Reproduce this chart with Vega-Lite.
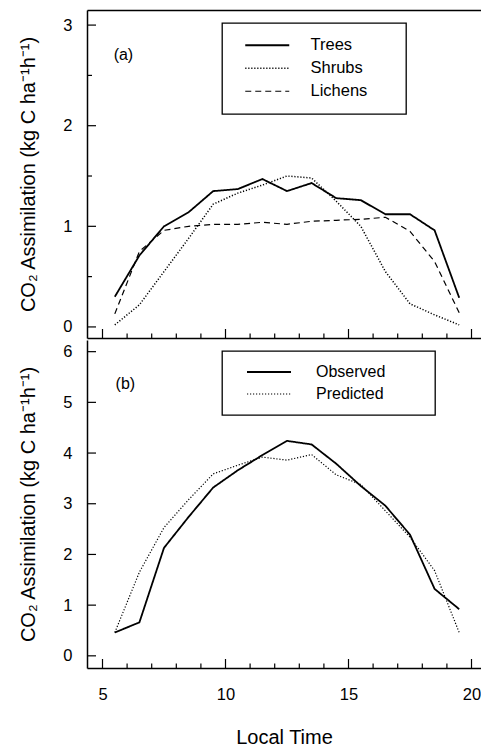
{
  "$schema": "https://vega.github.io/schema/vega-lite/v6.json",
  "background": "white",
  "padding": {"left": 18, "top": 10, "right": 0, "bottom": 0},
  "spacing": 1,
  "config": {
    "font": "Liberation Sans",
    "view": {"stroke": null},
    "axis": {
      "grid": false,
      "domainColor": "black",
      "domainWidth": 1.5,
      "labelFont": "Liberation Sans",
      "labelFontSize": 16.5,
      "labelColor": "black",
      "labelOverlap": false,
      "labelFlush": false,
      "titleFont": "Liberation Sans",
      "titleFontSize": 20,
      "titleFontWeight": "normal",
      "titleColor": "black"
    },
    "legend": {"strokeWidth": 1.3}
  },
  "datasets": {
    "top": [
      {"time": 5.5, "series": "Trees", "value": 0.30},
      {"time": 6.5, "series": "Trees", "value": 0.71},
      {"time": 7.5, "series": "Trees", "value": 1.00},
      {"time": 8.5, "series": "Trees", "value": 1.14},
      {"time": 9.5, "series": "Trees", "value": 1.35},
      {"time": 10.5, "series": "Trees", "value": 1.37},
      {"time": 11.5, "series": "Trees", "value": 1.47},
      {"time": 12.5, "series": "Trees", "value": 1.35},
      {"time": 13.5, "series": "Trees", "value": 1.43},
      {"time": 14.5, "series": "Trees", "value": 1.28},
      {"time": 15.5, "series": "Trees", "value": 1.26},
      {"time": 16.5, "series": "Trees", "value": 1.12},
      {"time": 17.5, "series": "Trees", "value": 1.12},
      {"time": 18.5, "series": "Trees", "value": 0.96},
      {"time": 19.5, "series": "Trees", "value": 0.29},
      {"time": 5.5, "series": "Shrubs", "value": 0.02},
      {"time": 6.5, "series": "Shrubs", "value": 0.22},
      {"time": 7.5, "series": "Shrubs", "value": 0.55},
      {"time": 8.5, "series": "Shrubs", "value": 0.88},
      {"time": 9.5, "series": "Shrubs", "value": 1.22},
      {"time": 10.5, "series": "Shrubs", "value": 1.33},
      {"time": 11.5, "series": "Shrubs", "value": 1.41},
      {"time": 12.5, "series": "Shrubs", "value": 1.50},
      {"time": 13.5, "series": "Shrubs", "value": 1.48},
      {"time": 14.5, "series": "Shrubs", "value": 1.25},
      {"time": 15.5, "series": "Shrubs", "value": 1.00},
      {"time": 16.5, "series": "Shrubs", "value": 0.55},
      {"time": 17.5, "series": "Shrubs", "value": 0.23},
      {"time": 18.5, "series": "Shrubs", "value": 0.12},
      {"time": 19.5, "series": "Shrubs", "value": 0.02},
      {"time": 5.5, "series": "Lichens", "value": 0.13},
      {"time": 6.5, "series": "Lichens", "value": 0.75},
      {"time": 7.5, "series": "Lichens", "value": 0.96},
      {"time": 8.5, "series": "Lichens", "value": 1.00},
      {"time": 9.5, "series": "Lichens", "value": 1.02},
      {"time": 10.5, "series": "Lichens", "value": 1.02},
      {"time": 11.5, "series": "Lichens", "value": 1.04},
      {"time": 12.5, "series": "Lichens", "value": 1.02},
      {"time": 13.5, "series": "Lichens", "value": 1.05},
      {"time": 14.5, "series": "Lichens", "value": 1.06},
      {"time": 15.5, "series": "Lichens", "value": 1.07},
      {"time": 16.5, "series": "Lichens", "value": 1.09},
      {"time": 17.5, "series": "Lichens", "value": 0.95},
      {"time": 18.5, "series": "Lichens", "value": 0.65},
      {"time": 19.5, "series": "Lichens", "value": 0.14}
    ],
    "bottom": [
      {"time": 5.5, "series": "Observed", "value": 0.46},
      {"time": 6.5, "series": "Observed", "value": 0.66},
      {"time": 7.5, "series": "Observed", "value": 2.13},
      {"time": 8.5, "series": "Observed", "value": 2.74},
      {"time": 9.5, "series": "Observed", "value": 3.32},
      {"time": 10.5, "series": "Observed", "value": 3.66},
      {"time": 11.5, "series": "Observed", "value": 3.96},
      {"time": 12.5, "series": "Observed", "value": 4.24},
      {"time": 13.5, "series": "Observed", "value": 4.17},
      {"time": 14.5, "series": "Observed", "value": 3.79},
      {"time": 15.5, "series": "Observed", "value": 3.35},
      {"time": 16.5, "series": "Observed", "value": 2.96},
      {"time": 17.5, "series": "Observed", "value": 2.39},
      {"time": 18.5, "series": "Observed", "value": 1.32},
      {"time": 19.5, "series": "Observed", "value": 0.92},
      {"time": 5.5, "series": "Predicted", "value": 0.46},
      {"time": 6.5, "series": "Predicted", "value": 1.65},
      {"time": 7.5, "series": "Predicted", "value": 2.53},
      {"time": 8.5, "series": "Predicted", "value": 3.08},
      {"time": 9.5, "series": "Predicted", "value": 3.59},
      {"time": 10.5, "series": "Predicted", "value": 3.76},
      {"time": 11.5, "series": "Predicted", "value": 3.92},
      {"time": 12.5, "series": "Predicted", "value": 3.86},
      {"time": 13.5, "series": "Predicted", "value": 3.97},
      {"time": 14.5, "series": "Predicted", "value": 3.57},
      {"time": 15.5, "series": "Predicted", "value": 3.38},
      {"time": 16.5, "series": "Predicted", "value": 2.86},
      {"time": 17.5, "series": "Predicted", "value": 2.34},
      {"time": 18.5, "series": "Predicted", "value": 1.68},
      {"time": 19.5, "series": "Predicted", "value": 0.46}
    ],
    "labels_a": [{"label": "(a)", "time": 5.85, "value": 2.70}],
    "labels_b": [{"label": "(b)", "time": 5.93, "value": 5.36}],
    "xt_major": [{"t": 5}, {"t": 10}, {"t": 15}, {"t": 20}],
    "xt_minor": [{"t": 6}, {"t": 7}, {"t": 8}, {"t": 9}, {"t": 11}, {"t": 12}, {"t": 13}, {"t": 14}, {"t": 16}, {"t": 17}, {"t": 18}, {"t": 19}],
    "yt_a_major": [{"v": 0}, {"v": 1}, {"v": 2}, {"v": 3}],
    "yt_a_minor": [{"v": 0.5}, {"v": 1.5}, {"v": 2.5}],
    "yt_b": [{"v": 0}, {"v": 1}, {"v": 2}, {"v": 3}, {"v": 4}, {"v": 5}, {"v": 6}]
  },
  "resolve": {"scale": {"strokeDash": "independent", "strokeWidth": "independent", "y": "independent"}},
  "vconcat": [
    {
      "width": 394,
      "height": 328,
      "resolve": {"axis": {"x": "independent", "y": "independent"}},
      "layer": [
        {
          "data": {"name": "top"},
          "mark": {"type": "line", "color": "black"},
          "encoding": {
            "x": {
              "field": "time", "type": "quantitative",
              "scale": {"domain": [4.37, 20.386], "nice": false, "zero": false},
              "axis": {"orient": "top", "title": null, "labels": false, "ticks": false, "domain": true}
            },
            "y": {
              "field": "value", "type": "quantitative",
              "scale": {"domain": [-0.11, 3.15], "nice": false, "zero": false},
              "axis": {
                "title": "CO₂ Assimilation (kg C ha⁻¹h⁻¹)",
                "titlePadding": 24,
                "labelPadding": 15,
                "ticks": false,
                "values": [0, 1, 2, 3],
                "format": "d"
              }
            },
            "strokeDash": {
              "field": "series", "type": "nominal",
              "scale": {"domain": ["Trees", "Shrubs", "Lichens"], "range": [[1, 0], [1.2, 1.8], [6, 4]]},
              "legend": {
                "title": null, "orient": "none", "legendX": 135, "legendY": 13,
                "strokeColor": "black", "padding": 14,
                "symbolType": "M-4,0L4,0", "symbolSize": 121, "symbolOffset": 23,
                "symbolStrokeColor": "black", "symbolFillColor": "transparent",
                "labelOffset": 35, "labelFontSize": 16.5, "labelColor": "black", "labelFont": "Liberation Sans",
                "rowPadding": 6,
                "labelExpr": "datum.label + '\u2800\u2800'"
              }
            },
            "strokeWidth": {
              "field": "series", "type": "nominal",
              "scale": {"domain": ["Trees", "Shrubs", "Lichens"], "range": [1.8, 1.2, 1.5]},
              "legend": {
                "title": null, "orient": "none", "legendX": 135, "legendY": 13,
                "strokeColor": "black", "padding": 14,
                "symbolType": "M-4,0L4,0", "symbolSize": 121, "symbolOffset": 23,
                "symbolStrokeColor": "black", "symbolFillColor": "transparent",
                "labelOffset": 35, "labelFontSize": 16.5, "labelColor": "black", "labelFont": "Liberation Sans",
                "rowPadding": 6,
                "labelExpr": "datum.label + '\u2800\u2800'"
              }
            }
          }
        },
        {
          "data": {"name": "labels_a"},
          "mark": {"type": "text", "fontSize": 16, "color": "black", "font": "Liberation Sans"},
          "encoding": {
            "x": {
              "field": "time", "type": "quantitative",
              "axis": {"orient": "bottom", "title": null, "labels": false, "ticks": false, "domain": true}
            },
            "y": {"field": "value", "type": "quantitative", "axis": null},
            "text": {"field": "label"}
          }
        },
        {
          "data": {"name": "xt_major"},
          "mark": {"type": "rule", "color": "black", "strokeWidth": 1.2},
          "encoding": {
            "x": {"field": "t", "type": "quantitative", "axis": null},
            "y": {"datum": -0.11, "type": "quantitative", "axis": null},
            "y2": {"datum": -0.0205}
          }
        },
        {
          "data": {"name": "xt_minor"},
          "mark": {"type": "rule", "color": "black", "strokeWidth": 1.2},
          "encoding": {
            "x": {"field": "t", "type": "quantitative", "axis": null},
            "y": {"datum": -0.11, "type": "quantitative", "axis": null},
            "y2": {"datum": -0.0653}
          }
        },
        {
          "data": {"name": "yt_a_major"},
          "mark": {"type": "rule", "color": "black", "strokeWidth": 1.2},
          "encoding": {
            "y": {"field": "v", "type": "quantitative", "axis": null},
            "x": {"datum": 4.37, "type": "quantitative", "axis": null},
            "x2": {"datum": 4.736}
          }
        },
        {
          "data": {"name": "yt_a_minor"},
          "mark": {"type": "rule", "color": "black", "strokeWidth": 1.2},
          "encoding": {
            "y": {"field": "v", "type": "quantitative", "axis": null},
            "x": {"datum": 4.37, "type": "quantitative", "axis": null},
            "x2": {"datum": 4.573}
          }
        }
      ]
    },
    {
      "width": 394,
      "height": 328,
      "resolve": {"axis": {"x": "independent", "y": "independent"}},
      "layer": [
        {
          "data": {"name": "bottom"},
          "mark": {"type": "line", "color": "black"},
          "encoding": {
            "x": {
              "field": "time", "type": "quantitative",
              "scale": {"domain": [4.37, 20.386], "nice": false, "zero": false},
              "axis": {
                "title": "Local Time",
                "titlePadding": 25,
                "labelPadding": 18,
                "ticks": false,
                "values": [5, 10, 15, 20]
              }
            },
            "y": {
              "field": "value", "type": "quantitative",
              "scale": {"domain": [-0.24, 6.23], "nice": false, "zero": false},
              "axis": {
                "title": "CO₂ Assimilation (kg C ha⁻¹h⁻¹)",
                "titlePadding": 24,
                "labelPadding": 15,
                "ticks": false,
                "values": [0, 1, 2, 3, 4, 5, 6]
              }
            },
            "strokeDash": {
              "field": "series", "type": "nominal",
              "scale": {"domain": ["Observed", "Predicted"], "range": [[1, 0], [1.2, 1.8]]},
              "legend": {
                "title": null, "orient": "none", "legendX": 135, "legendY": 11,
                "strokeColor": "black", "padding": 13,
                "symbolType": "M-4,0L4,0", "symbolSize": 121, "symbolOffset": 26,
                "symbolStrokeColor": "black", "symbolFillColor": "transparent",
                "labelOffset": 39, "labelFontSize": 16, "labelColor": "black", "labelFont": "Liberation Sans",
                "rowPadding": 6,
                "labelExpr": "datum.label + '\u2800\u2800\u2800'"
              }
            },
            "strokeWidth": {
              "field": "series", "type": "nominal",
              "scale": {"domain": ["Observed", "Predicted"], "range": [1.8, 1.2]},
              "legend": {
                "title": null, "orient": "none", "legendX": 135, "legendY": 11,
                "strokeColor": "black", "padding": 13,
                "symbolType": "M-4,0L4,0", "symbolSize": 121, "symbolOffset": 26,
                "symbolStrokeColor": "black", "symbolFillColor": "transparent",
                "labelOffset": 39, "labelFontSize": 16, "labelColor": "black", "labelFont": "Liberation Sans",
                "rowPadding": 6,
                "labelExpr": "datum.label + '\u2800\u2800\u2800'"
              }
            }
          }
        },
        {
          "data": {"name": "labels_b"},
          "mark": {"type": "text", "fontSize": 16, "color": "black", "font": "Liberation Sans"},
          "encoding": {
            "x": {"field": "time", "type": "quantitative", "axis": null},
            "y": {"field": "value", "type": "quantitative", "axis": null},
            "text": {"field": "label"}
          }
        },
        {
          "data": {"name": "xt_major"},
          "mark": {"type": "rule", "color": "black", "strokeWidth": 1.2},
          "encoding": {
            "x": {"field": "t", "type": "quantitative", "axis": null},
            "y": {"datum": -0.24, "type": "quantitative", "axis": null},
            "y2": {"datum": -0.0625}
          }
        },
        {
          "data": {"name": "xt_minor"},
          "mark": {"type": "rule", "color": "black", "strokeWidth": 1.2},
          "encoding": {
            "x": {"field": "t", "type": "quantitative", "axis": null},
            "y": {"datum": -0.24, "type": "quantitative", "axis": null},
            "y2": {"datum": -0.1512}
          }
        },
        {
          "data": {"name": "yt_b"},
          "mark": {"type": "rule", "color": "black", "strokeWidth": 1.2},
          "encoding": {
            "y": {"field": "v", "type": "quantitative", "axis": null},
            "x": {"datum": 4.37, "type": "quantitative", "axis": null},
            "x2": {"datum": 4.736}
          }
        }
      ]
    }
  ]
}
